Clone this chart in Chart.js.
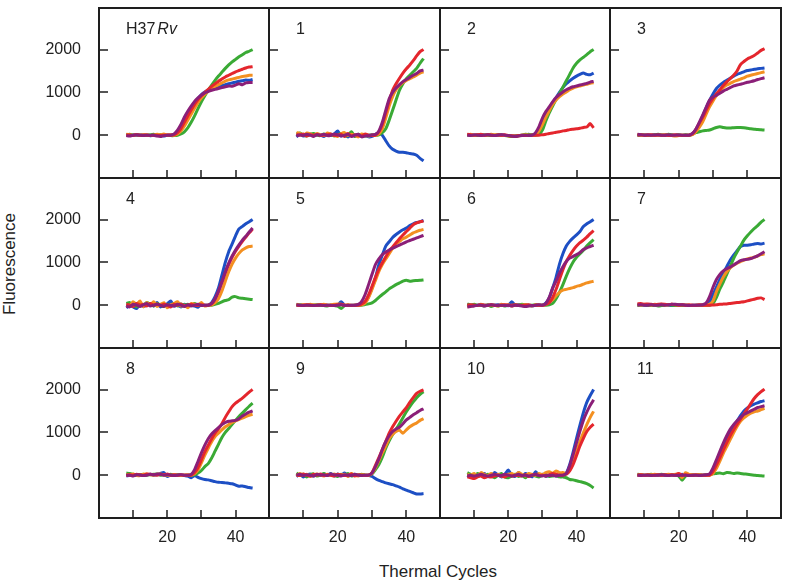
<!DOCTYPE html>
<html>
<head>
<meta charset="utf-8">
<script src="https://cdn.jsdelivr.net/npm/chart.js@4.4.1/dist/chart.umd.min.js"></script>
<style>
  html, body { margin: 0; padding: 0; background: #fff; }
  #wrap { position: relative; width: 787px; height: 587px; overflow: hidden;
          font-family: "Liberation Sans", Arial, sans-serif; color: #222; }
  #wrap canvas { position: absolute; }
  .axis-title { position: absolute; font-size: 17px; white-space: nowrap; }
  #ytitle { left: 10px; top: 264px; transform: translate(-50%, -50%) rotate(-90deg); }
  #xtitle { left: 438px; top: 572px; transform: translate(-50%, -50%); }
</style>
</head>
<body>
<div id="wrap">
  <div class="axis-title" id="ytitle">Fluorescence</div>
  <div class="axis-title" id="xtitle">Thermal Cycles</div>
</div>
<script>
// Thermal cycles (x) shared by every panel
var cycles = [8,9,10,11,12,13,14,15,16,17,18,19,20,21,22,23,24,25,26,27,28,29,30,31,32,33,34,35,36,37,38,39,40,41,42,43,44,45];
var panelNames = ['H37Rv','1','2','3','4','5','6','7','8','9','10','11'];
// series order in every panel: blue, green, orange, red, purple
var seriesColors = ['#1d4fc4', '#3aaa35', '#f39021', '#e4262d', '#8b1f78'];
var yTicks = [0, 1000, 2000];
var xTickLabels = [20, 40];
var xTickMarks = [10, 20, 30, 40];

var panelH37Rv = [
  [0,-10,10,0,-5,10,0,-15,5,0,10,-20,0,5,10,70,170,320,480,620,750,860,950,1010,1050,1090,1110,1130,1160,1180,1200,1220,1240,1260,1270,1290,1280,1300],
  [10,20,0,10,5,-10,0,10,20,0,10,-10,0,-10,-10,0,30,80,170,300,450,620,780,920,1050,1170,1280,1380,1470,1560,1640,1710,1770,1830,1880,1930,1960,2000],
  [20,10,0,15,0,10,5,-10,0,20,10,30,0,10,0,30,100,210,350,490,630,760,870,960,1030,1090,1140,1180,1220,1260,1290,1310,1330,1350,1370,1380,1400,1400],
  [0,5,-5,10,0,0,5,-5,0,0,-10,0,5,0,10,60,150,300,450,590,720,830,920,1000,1070,1140,1200,1260,1310,1360,1400,1440,1480,1510,1540,1570,1590,1600],
  [-10,-20,0,10,0,-10,0,-5,0,-20,-30,-10,0,0,30,120,250,420,560,680,790,870,940,990,1020,1050,1070,1090,1110,1130,1150,1140,1170,1200,1180,1220,1230,1230]
];
var panel1 = [
  [-40,20,-20,0,30,-10,10,0,-30,20,-10,30,100,-20,10,-40,20,-30,10,-20,0,-40,-30,20,50,0,-130,-250,-330,-370,-400,-400,-410,-430,-440,-470,-540,-600],
  [30,50,0,-20,20,40,0,-10,30,0,20,-20,10,40,-20,0,80,-30,20,0,-20,0,10,0,10,60,150,350,580,820,1050,1200,1320,1400,1480,1560,1680,1790],
  [60,40,0,50,30,-20,40,10,-10,50,20,0,-30,30,60,0,20,-10,-40,30,10,-20,0,0,30,150,400,680,900,1060,1160,1230,1280,1320,1360,1400,1450,1480],
  [20,0,30,-20,10,0,20,-10,0,10,30,-10,0,20,-30,40,-20,10,0,-20,30,0,-10,0,80,250,520,800,1050,1200,1330,1450,1550,1640,1740,1850,1950,2000],
  [-20,10,-10,20,0,-30,10,0,20,-10,0,30,10,-20,0,20,-30,0,20,-40,-20,-10,10,20,100,300,580,850,1000,1100,1180,1250,1300,1350,1400,1440,1500,1520]
];
var panel2 = [
  [10,0,-10,10,0,-10,5,10,-5,0,10,-5,-10,-20,-20,-10,0,10,20,0,10,120,280,460,620,760,870,1000,1110,1200,1270,1330,1380,1420,1450,1420,1410,1450],
  [0,10,0,-10,0,10,0,-5,0,10,0,-10,-20,-30,-20,-10,0,20,10,10,0,20,120,330,520,680,830,970,1120,1270,1420,1570,1680,1760,1820,1880,1950,2000],
  [10,20,0,10,0,-10,10,20,10,0,-10,0,-20,-10,-30,-20,0,10,0,0,10,100,250,420,570,720,820,900,960,1010,1060,1100,1130,1150,1170,1190,1210,1225],
  [20,10,0,10,20,0,10,0,-10,10,0,10,-10,-20,-20,-10,0,-10,0,0,0,0,10,20,40,50,70,80,100,110,130,140,150,160,180,190,270,170],
  [0,-10,10,0,-10,0,10,0,-10,0,10,0,-10,-20,-30,-20,-10,0,-10,0,60,200,400,550,660,780,880,950,1010,1060,1100,1130,1150,1170,1190,1210,1240,1255]
];
var panel3 = [
  [-10,0,10,0,-10,5,0,-10,0,10,0,-5,0,-10,0,0,30,130,270,450,640,810,960,1090,1170,1230,1280,1330,1380,1420,1450,1480,1510,1520,1540,1550,1560,1570],
  [0,10,0,-10,0,10,20,10,0,20,10,0,10,0,10,0,20,60,80,100,110,120,150,180,195,180,170,165,175,180,180,175,160,150,140,130,125,120],
  [10,0,0,10,0,-10,0,0,10,0,-10,-20,-10,0,-10,0,10,80,180,310,490,660,800,930,1030,1110,1170,1210,1250,1280,1310,1340,1380,1400,1420,1440,1460,1480],
  [0,10,0,0,10,0,5,0,0,-5,0,10,0,0,0,0,30,130,280,420,580,740,860,970,1060,1160,1245,1320,1400,1500,1650,1720,1780,1820,1860,1920,1980,2020],
  [20,10,0,10,0,5,10,0,0,10,0,0,5,0,0,0,40,140,300,470,650,820,890,930,980,1030,1070,1110,1150,1170,1190,1210,1235,1250,1270,1300,1320,1340]
];
var panel4 = [
  [-60,0,-40,-80,20,-30,0,40,-20,60,-40,0,30,100,-20,0,-40,20,-30,0,-20,-50,20,0,0,60,200,400,700,1000,1250,1430,1620,1780,1840,1900,1950,2000],
  [40,60,0,-40,40,0,60,20,-20,40,0,-30,20,0,40,-20,30,0,20,-10,40,0,10,-10,0,0,20,40,80,110,130,190,200,170,160,150,140,130],
  [0,-20,80,20,100,-40,60,0,80,-30,20,60,-60,0,40,80,-20,0,-60,40,20,0,60,-20,0,10,60,150,330,560,780,960,1100,1210,1290,1340,1370,1380],
  [20,0,-30,40,0,20,-20,40,0,30,-10,20,0,-40,20,0,30,-20,0,20,0,-10,10,0,0,30,140,310,530,750,950,1120,1260,1380,1490,1590,1690,1780],
  [-20,-40,20,0,-30,10,40,-20,0,20,0,-30,10,0,-20,20,0,-30,10,-20,0,20,-10,0,0,40,150,330,550,780,980,1150,1290,1410,1520,1610,1710,1800]
];
var panel5 = [
  [10,0,-10,0,10,0,-10,0,10,0,0,-10,0,80,0,-10,0,0,0,20,60,200,400,640,950,1170,1380,1480,1580,1650,1710,1760,1800,1860,1900,1930,1950,1980],
  [0,10,0,0,-10,0,10,0,-10,-20,0,-10,-20,-80,-10,0,-10,0,0,0,15,30,55,110,180,250,310,380,430,480,520,560,580,560,570,575,580,590],
  [20,0,10,0,20,10,0,10,20,0,10,20,30,20,0,10,0,0,0,10,50,180,370,580,790,950,1080,1200,1330,1430,1490,1550,1590,1640,1690,1720,1750,1770],
  [0,-10,0,10,0,-10,0,10,0,0,-10,0,10,20,0,0,-10,0,0,30,90,240,440,650,840,990,1130,1260,1360,1460,1550,1640,1720,1800,1880,1920,1950,1960],
  [10,0,-10,0,0,-10,0,0,-10,0,0,-10,0,10,-10,0,0,0,20,90,250,480,720,950,1080,1180,1240,1290,1330,1370,1400,1440,1480,1510,1540,1570,1600,1630]
];
var panel6 = [
  [10,0,-10,0,10,0,-10,0,0,10,0,0,-10,80,0,10,0,-10,0,-20,0,0,0,50,170,400,650,960,1200,1380,1490,1570,1640,1720,1840,1900,1950,2000],
  [30,0,20,-10,0,-20,10,-30,0,-20,0,-20,0,-10,10,0,20,10,0,0,10,0,0,0,10,40,150,300,480,680,860,1010,1120,1200,1280,1380,1460,1530],
  [-40,-20,0,-10,20,0,-10,10,0,-20,20,0,10,-20,0,-10,0,10,-10,-20,10,0,-10,20,70,130,220,300,350,370,390,410,440,460,490,520,540,560],
  [0,10,0,-10,10,0,0,10,-10,0,0,10,0,0,10,0,-10,0,10,-10,0,0,0,20,60,180,370,600,830,1020,1160,1280,1380,1460,1520,1590,1670,1740],
  [-40,-30,-20,0,0,-20,0,10,0,-10,0,-10,0,-20,0,-10,-20,-30,-20,-10,0,10,0,40,180,400,560,750,900,1020,1100,1140,1180,1230,1300,1340,1370,1400]
];
var panel7 = [
  [0,10,0,-10,0,10,0,0,10,0,-10,0,10,0,0,-10,0,0,0,0,20,80,250,420,600,760,900,1050,1170,1270,1370,1400,1400,1410,1430,1440,1430,1450],
  [0,0,10,0,-10,0,-20,-10,0,10,0,-10,0,-10,0,0,-10,0,0,0,0,0,40,180,380,540,720,900,1090,1240,1380,1520,1620,1710,1790,1860,1940,2000],
  [10,0,20,10,0,20,10,20,0,10,20,10,0,10,0,-10,0,-10,0,0,0,20,100,320,500,660,780,870,930,980,1020,1050,1080,1100,1120,1150,1180,1200],
  [30,40,20,30,20,10,20,30,20,10,20,10,0,10,0,10,0,0,10,0,0,0,5,10,20,25,30,40,50,60,70,80,100,120,140,160,170,130],
  [0,10,0,0,10,0,0,10,0,10,20,20,10,10,0,-10,0,0,0,10,50,200,420,600,720,800,850,890,940,990,1040,1060,1070,1090,1120,1150,1200,1250]
];
var panel8 = [
  [-20,0,-10,0,10,0,10,20,0,10,40,60,-30,0,-10,10,0,-10,-20,-60,-10,-50,-80,-100,-110,-130,-150,-165,-170,-180,-190,-200,-230,-260,-250,-270,-290,-300],
  [50,40,20,0,10,20,0,10,20,30,0,10,0,20,0,10,0,0,0,0,10,50,110,200,270,400,560,720,880,1000,1090,1190,1280,1370,1450,1530,1610,1680],
  [0,10,30,0,-10,20,30,10,0,20,30,10,0,-10,10,0,-10,0,10,0,40,120,290,470,630,780,900,980,1060,1130,1180,1230,1270,1300,1330,1370,1400,1420],
  [0,10,0,20,10,0,30,20,10,0,20,10,30,0,10,0,10,0,0,0,60,180,360,550,700,850,980,1080,1200,1350,1480,1600,1680,1740,1800,1870,1940,2000],
  [-10,0,-20,10,0,-10,0,20,10,30,20,0,10,0,-10,0,10,0,0,20,130,320,520,700,850,960,1040,1110,1180,1230,1260,1270,1280,1320,1380,1430,1470,1500]
];
var panel9 = [
  [-30,20,-40,0,30,-20,10,-10,20,0,40,-20,30,0,50,-20,0,20,-10,10,0,0,-30,-80,-120,-150,-180,-200,-220,-250,-280,-320,-350,-380,-410,-440,-440,-430],
  [50,0,20,-40,10,30,-20,0,40,-10,20,0,-30,20,0,40,-20,10,0,20,0,0,30,130,250,420,630,800,950,1070,1200,1340,1480,1600,1710,1810,1890,1950],
  [-20,40,0,20,-30,10,30,0,-20,20,0,30,-10,0,20,-30,40,0,-20,10,0,0,40,170,340,520,680,850,950,1020,1050,980,1060,1130,1180,1220,1280,1320],
  [10,-10,30,0,-20,20,0,30,-10,10,0,-20,20,10,-10,0,30,-20,10,0,0,0,60,230,410,600,790,980,1130,1260,1380,1480,1580,1700,1810,1910,1960,1990],
  [0,20,-10,10,0,-20,20,0,10,-10,30,10,0,-20,10,0,-10,20,0,-10,0,0,50,200,380,600,780,920,1020,1080,1120,1200,1290,1350,1410,1460,1510,1550]
];
var panel10 = [
  [0,-40,20,-20,0,40,-30,-20,60,0,-40,20,120,0,-30,60,-20,40,0,-40,80,0,20,-30,0,40,-20,0,0,50,250,540,860,1170,1460,1700,1860,2000],
  [60,20,-20,40,0,-40,20,-20,-60,0,40,-40,-60,-20,20,-30,0,-60,20,0,-20,-40,0,20,-30,-20,0,-40,-40,-60,-100,-110,-130,-150,-170,-200,-240,-300],
  [20,0,40,-20,60,20,-10,40,0,20,-20,0,20,40,0,60,20,-20,40,20,0,40,10,60,80,40,100,60,60,40,120,320,560,790,990,1180,1350,1490],
  [-40,-60,-80,-40,-20,-60,-30,-40,-20,0,-20,-40,0,-20,-10,0,-20,10,-30,0,20,-10,0,-20,10,40,20,0,0,20,100,250,460,680,860,1020,1120,1190],
  [-20,0,-20,0,20,0,-20,0,20,0,-10,20,0,-20,0,20,-10,0,-20,0,20,-10,-20,0,-10,0,-20,0,0,40,220,480,760,1030,1280,1470,1630,1760]
];
var panel11 = [
  [0,10,0,-10,0,10,0,0,-10,0,10,0,-10,20,0,0,-10,0,0,0,0,10,110,280,470,670,840,990,1130,1260,1390,1500,1570,1620,1660,1690,1720,1740],
  [20,10,0,10,20,0,10,20,10,0,10,0,-20,-120,-20,0,10,0,10,0,10,10,30,40,50,35,60,55,40,50,40,30,20,10,0,-10,-15,-20],
  [0,10,0,0,10,20,10,0,10,20,10,20,30,-60,60,20,10,0,10,0,0,0,40,160,330,510,670,830,990,1140,1260,1340,1400,1450,1480,1500,1530,1560],
  [0,10,0,10,0,0,10,0,10,0,10,0,40,0,10,0,0,10,0,0,0,0,90,240,410,590,760,920,1060,1190,1310,1430,1550,1670,1790,1880,1950,2010],
  [0,-10,0,0,-10,0,0,10,0,-10,0,0,-10,0,0,-10,0,0,-10,0,10,30,170,360,560,750,920,1070,1180,1270,1350,1420,1460,1500,1540,1580,1600,1620]
];
var panels = [panelH37Rv, panel1, panel2, panel3, panel4, panel5, panel6, panel7, panel8, panel9, panel10, panel11];

// panel frame edges in page pixels
var colEdges = [99, 269, 440, 610, 781];
var rowEdges = [8, 178, 348, 518];
var yLabelSpace = 99;
var xLabelSpace = 50;
var fontFamily = '"Liberation Sans", Arial, sans-serif';

// frame, inward tick marks and the panel name
var panelDecor = {
  id: 'panelDecor',
  afterDraw: function (chart, args, opts) {
    var ctx = chart.ctx;
    var a = chart.chartArea;
    var xs = chart.scales.x;
    var ys = chart.scales.y;
    ctx.save();
    ctx.strokeStyle = '#1e1e1e';
    ctx.lineWidth = 1.5;
    ctx.beginPath();
    xTickMarks.forEach(function (v) {
      var px = Math.round(xs.getPixelForValue(v));
      ctx.moveTo(px, a.bottom);
      ctx.lineTo(px, a.bottom - 8);
    });
    yTicks.forEach(function (v) {
      var py = Math.round(ys.getPixelForValue(v));
      ctx.moveTo(a.left, py);
      ctx.lineTo(a.left + 9, py);
    });
    ctx.stroke();
    ctx.lineWidth = 2;
    ctx.strokeRect(a.left, a.top, a.right - a.left, a.bottom - a.top);

    ctx.fillStyle = '#222';
    ctx.textBaseline = 'alphabetic';
    ctx.font = '16px ' + fontFamily;
    var x = a.left + 27;
    var y = a.top + 26;
    if (opts.text === 'H37Rv') {
      ctx.fillText('H37', x, y);
      x += ctx.measureText('H37').width + 2;
      ctx.font = 'italic 16px ' + fontFamily;
      ctx.fillText('Rv', x, y);
    } else {
      ctx.fillText(opts.text, x, y);
    }
    ctx.restore();
  }
};

var wrap = document.getElementById('wrap');

panels.forEach(function (series, p) {
  var r = Math.floor(p / 4);
  var c = p % 4;
  var yW = (c === 0 ? yLabelSpace : 0) + 2;
  var xH = (r === 2 ? xLabelSpace : 0) + 2;
  var pw = colEdges[c + 1] - colEdges[c];
  var ph = rowEdges[r + 1] - rowEdges[r];

  var canvas = document.createElement('canvas');
  canvas.width = yW + pw + 2;
  canvas.height = 2 + ph + xH;
  canvas.style.left = (colEdges[c] - yW) + 'px';
  canvas.style.top = (rowEdges[r] - 2) + 'px';
  wrap.appendChild(canvas);

  var datasets = seriesColors.map(function (col, k) {
    return {
      data: cycles.map(function (cy, i) { return { x: cy, y: series[k][i] }; }),
      borderColor: col,
      borderWidth: 3,
      pointRadius: 0,
      tension: 0.2,
      fill: false,
      order: 4 - k
    };
  });

  new Chart(canvas, {
    type: 'line',
    data: { datasets: datasets },
    options: {
      responsive: false,
      animation: false,
      events: [],
      layout: { padding: { top: 2, right: 2, left: 0, bottom: 0 } },
      plugins: {
        legend: { display: false },
        tooltip: { enabled: false },
        panelDecor: { text: panelNames[p] }
      },
      scales: {
        x: {
          type: 'linear', min: 0, max: 49.8,
          grid: { display: false, drawTicks: false },
          border: { display: false },
          ticks: {
            display: r === 2, padding: 10, maxRotation: 0, autoSkip: false,
            color: '#222', font: { size: 16, family: fontFamily },
            callback: function (v) { return String(v); }
          },
          afterBuildTicks: function (s) { s.ticks = xTickLabels.map(function (v) { return { value: v }; }); },
          afterFit: function (s) { s.height = xH; s.paddingLeft = 0; s.paddingRight = 0; }
        },
        y: {
          type: 'linear', min: -1000, max: 2970,
          grid: { display: false, drawTicks: false },
          border: { display: false },
          ticks: {
            display: c === 0, padding: 18,
            color: '#222', font: { size: 16, family: fontFamily },
            callback: function (v) { return String(v); }
          },
          afterBuildTicks: function (s) { s.ticks = yTicks.map(function (v) { return { value: v }; }); },
          afterFit: function (s) { s.width = yW; s.paddingTop = 0; s.paddingBottom = 0; }
        }
      }
    },
    plugins: [panelDecor]
  });
});
</script>
</body>
</html>
